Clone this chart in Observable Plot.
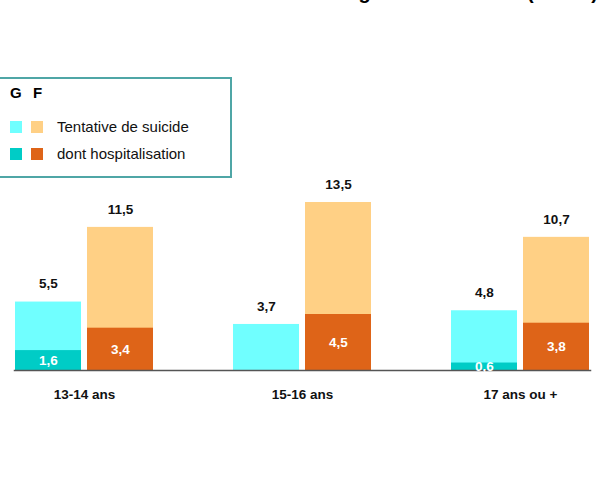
<!DOCTYPE html>
<html>
<head>
<meta charset="utf-8">
<script src="https://cdn.jsdelivr.net/npm/d3@7"></script>
<script src="https://cdn.jsdelivr.net/npm/@observablehq/plot@0.6"></script>
<style>
  html, body { margin: 0; padding: 0; background: #fff; }
  #wrap { position: relative; width: 606px; height: 489px; overflow: hidden; font-family: "Liberation Sans", Arial, sans-serif; }
  #title { position: absolute; right: 8px; top: -19px; font: bold 20px/22px "Liberation Sans", Arial, sans-serif; word-spacing: 11px; white-space: nowrap; color: #000; }
  #legend { position: absolute; left: -4px; top: 77px; width: 236px; height: 101px; border: 2px solid #4fa6a6; background: #fff; box-sizing: border-box; }
  #legend .hdr { position: absolute; top: 5px; font: bold 15px "Liberation Sans", Arial, sans-serif; }
  #legend .sw { position: absolute; width: 12px; height: 12px; }
  #legend .lbl { position: absolute; left: 59px; font: 15px "Liberation Sans", Arial, sans-serif; color: #111; }
  svg { position: absolute; left: 0; top: 0; }
</style>
</head>
<body>
<div id="wrap">
  <div id="title">Tentatives de suicide selon l'âge et le sexe (en %)</div>
  <div id="chart"></div>
  <div id="legend"></div>
</div>
<script>
// ---- data ----
const ages = ["13-14 ans", "15-16 ans", "17 ans ou +"];
const sexes = ["G", "F"];
const tentativeG = [5.5, 3.7, 4.8];
const tentativeF = [11.5, 13.5, 10.7];
const hospG = [1.6, null, 0.6];
const hospF = [3.4, 4.5, 3.8];
const legendLabels = ["Tentative de suicide", "dont hospitalisation"];

// ---- styles ----
const lightColor = {G: "#70ffff", F: "#ffd085"};
const darkColor = {G: "#00ccc6", F: "#de6418"};

const rows = [];
ages.forEach((a, i) => {
  rows.push({age: a, sex: "G", total: tentativeG[i], hosp: hospG[i]});
  rows.push({age: a, sex: "F", total: tentativeF[i], hosp: hospF[i]});
});
const fmt = v => String(v).replace(".", ",");
const hospRows = rows.filter(d => d.hosp != null);

const chart = Plot.plot({
  width: 606,
  height: 489,
  marginLeft: 11,
  marginRight: 0,
  marginTop: 190,
  marginBottom: 119,
  style: {fontFamily: "'Liberation Sans', Arial, sans-serif", background: "transparent"},
  fx: {domain: ages, range: [14, 590], paddingInner: 0.358, paddingOuter: 0, label: null, axis: null},
  x: {domain: sexes, paddingInner: 0.082, paddingOuter: 0, axis: null},
  y: {domain: [0, 13.5], range: [370, 202], axis: null},
  marks: [
    Plot.barY(rows, {fx: "age", x: "sex", y: "total", fill: d => lightColor[d.sex], inset: 0}),
    Plot.barY(hospRows, {fx: "age", x: "sex", y: "hosp", fill: d => darkColor[d.sex], inset: 0}),
    Plot.frame({anchor: "bottom", stroke: "#555", strokeWidth: 1.5, facet: "super"}),
    Plot.text(rows, {fx: "age", x: "sex", y: "total", text: d => fmt(d.total), dy: -18,
      fill: "#111", fontWeight: "bold", fontSize: 13.5}),
    Plot.text(hospRows, {fx: "age", x: "sex", y: d => d.hosp / 2, text: d => fmt(d.hosp),
      fill: "#fff", fontWeight: "bold", fontSize: 13.5}),
    Plot.axisFx({anchor: "bottom", tickSize: 0, tickPadding: 19, fontWeight: "bold", fontSize: 13.5, label: null, color: "#111"})
  ]
});
document.getElementById("chart").appendChild(chart);

// ---- legend ----
const lg = document.getElementById("legend");
function add(tag, cls, style, text) {
  const el = document.createElement(tag);
  el.className = cls;
  Object.assign(el.style, style);
  if (text) el.textContent = text;
  lg.appendChild(el);
}
sexes.forEach((s, i) => add("div", "hdr", {left: (12 + i * 23) + "px"}, s));
sexes.forEach((s, i) => {
  add("div", "sw", {left: (12 + i * 21) + "px", top: "42px", background: lightColor[s]});
  add("div", "sw", {left: (12 + i * 21) + "px", top: "69px", background: darkColor[s]});
});
add("div", "lbl", {top: "39px"}, legendLabels[0]);
add("div", "lbl", {top: "66px"}, legendLabels[1]);
</script>
</body>
</html>
